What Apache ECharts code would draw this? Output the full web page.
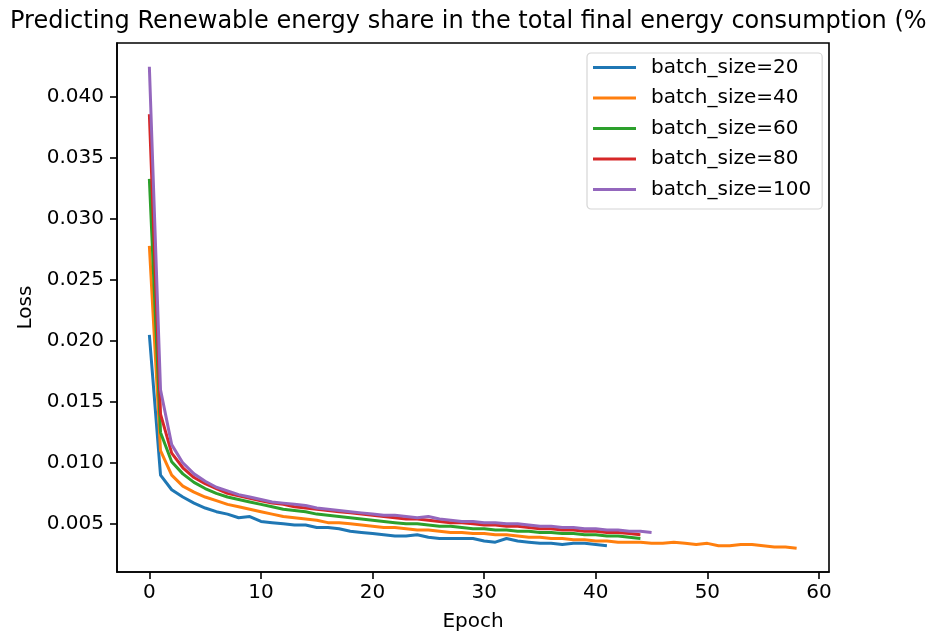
<!DOCTYPE html>
<html>
<head>
<meta charset="utf-8">
<script src="https://cdn.jsdelivr.net/npm/echarts@6/dist/echarts.min.js"></script>
<style>
html,body{margin:0;padding:0;background:#fff;}
#chart{width:928px;height:638px;}
</style>
</head>
<body>
<div id="chart"></div>
<script>
const titleText = "Predicting Renewable energy share in the total final energy consumption (%)";
const seriesNames = ["batch_size=20", "batch_size=40", "batch_size=60", "batch_size=80", "batch_size=100"];
const colors = ["#1f77b4", "#ff7f0e", "#2ca02c", "#d62728", "#9467bd"];

const loss20 = [0.0205, 0.0090, 0.0078, 0.0072, 0.0067, 0.0063, 0.0060, 0.0058, 0.0055, 0.0056,
  0.0052, 0.0051, 0.0050, 0.0049, 0.0049, 0.0047, 0.0047, 0.0046, 0.0044, 0.0043,
  0.0042, 0.0041, 0.0040, 0.0040, 0.0041, 0.0039, 0.0038, 0.0038, 0.0038, 0.0038,
  0.0036, 0.0035, 0.0038, 0.0036, 0.0035, 0.0034, 0.0034, 0.0033, 0.0034, 0.0034,
  0.0033, 0.0032];
const loss40 = [0.0278, 0.0110, 0.0090, 0.0081, 0.0076, 0.0072, 0.0069, 0.0066, 0.0064, 0.0062,
  0.0060, 0.0058, 0.0056, 0.0055, 0.0054, 0.0053, 0.0051, 0.0051, 0.0050, 0.0049,
  0.0048, 0.0047, 0.0047, 0.0046, 0.0045, 0.0045, 0.0044, 0.0043, 0.0043, 0.0042,
  0.0042, 0.0041, 0.0041, 0.0040, 0.0039, 0.0039, 0.0038, 0.0038, 0.0037, 0.0037,
  0.0036, 0.0036, 0.0035, 0.0035, 0.0035, 0.0034, 0.0034, 0.0035, 0.0034, 0.0033,
  0.0034, 0.0032, 0.0032, 0.0033, 0.0033, 0.0032, 0.0031, 0.0031, 0.0030];
const loss60 = [0.0333, 0.0125, 0.0101, 0.0091, 0.0084, 0.0079, 0.0075, 0.0072, 0.0070, 0.0068,
  0.0066, 0.0064, 0.0062, 0.0061, 0.0060, 0.0058, 0.0057, 0.0056, 0.0055, 0.0054,
  0.0053, 0.0052, 0.0051, 0.0050, 0.0050, 0.0049, 0.0048, 0.0048, 0.0047, 0.0046,
  0.0046, 0.0045, 0.0045, 0.0044, 0.0044, 0.0043, 0.0043, 0.0042, 0.0042, 0.0041,
  0.0041, 0.0040, 0.0040, 0.0039, 0.0038];
const loss80 = [0.0386, 0.0140, 0.0108, 0.0096, 0.0088, 0.0083, 0.0079, 0.0075, 0.0073, 0.0071,
  0.0069, 0.0067, 0.0066, 0.0064, 0.0063, 0.0062, 0.0061, 0.0060, 0.0059, 0.0058,
  0.0057, 0.0056, 0.0055, 0.0054, 0.0054, 0.0053, 0.0052, 0.0051, 0.0051, 0.0050,
  0.0049, 0.0049, 0.0048, 0.0048, 0.0047, 0.0046, 0.0046, 0.0045, 0.0045, 0.0044,
  0.0044, 0.0043, 0.0043, 0.0042, 0.0041];
const loss100 = [0.0425, 0.0160, 0.0115, 0.0100, 0.0091, 0.0085, 0.0080, 0.0077, 0.0074, 0.0072,
  0.0070, 0.0068, 0.0067, 0.0066, 0.0065, 0.0063, 0.0062, 0.0061, 0.0060, 0.0059,
  0.0058, 0.0057, 0.0057, 0.0056, 0.0055, 0.0056, 0.0054, 0.0053, 0.0052, 0.0052,
  0.0051, 0.0051, 0.0050, 0.0050, 0.0049, 0.0048, 0.0048, 0.0047, 0.0047, 0.0046,
  0.0046, 0.0045, 0.0045, 0.0044, 0.0044, 0.0043];

const xTicks = [0, 10, 20, 30, 40, 50, 60];
const yTicks = [0.005, 0.010, 0.015, 0.020, 0.025, 0.030, 0.035, 0.040];

const allLoss = [loss20, loss40, loss60, loss80, loss100];
const FONT = "DejaVu Sans";

const chart = echarts.init(document.getElementById('chart'), null, {renderer: 'canvas'});
chart.setOption({
  animation: false,
  backgroundColor: '#fff',
  graphic: [{
    type: 'text', x: 473, y: 22,
    style: {text: titleText, fontFamily: FONT, fontSize: 24, fill: '#000', textAlign: 'center', textVerticalAlign: 'middle'}
  }],
  grid: {left: 117, top: 43, right: 99, bottom: 66, show: true, borderColor: '#000', borderWidth: 1.6, backgroundColor: '#fff'},
  legend: {
    orient: 'vertical', left: 587, top: 53,
    data: seriesNames,
    icon: 'rect', itemWidth: 43, itemHeight: 3, itemGap: 7.5,
    padding: [3, 11, 8, 6],
    backgroundColor: '#fff', borderColor: '#d6d6d6', borderWidth: 1.2, borderRadius: 4,
    textStyle: {fontFamily: FONT, fontSize: 20, color: '#000', lineHeight: 23, padding: [0, 0, 0, 10]}
  },
  xAxis: {
    type: 'value', min: -2.9, max: 60.9,
    name: 'Epoch', nameLocation: 'middle', nameGap: 40,
    nameTextStyle: {fontFamily: FONT, fontSize: 20, color: '#000'},
    splitLine: {show: false},
    axisLine: {show: true, onZero: false, lineStyle: {color: '#000', width: 1.6}},
    axisTick: {show: true, length: 7, lineStyle: {color: '#000', width: 1.6}, customValues: xTicks},
    axisLabel: {fontFamily: FONT, fontSize: 20, color: '#000', margin: 11, customValues: xTicks, formatter: v => String(Math.round(v))}
  },
  yAxis: {
    type: 'value', min: 0.00105, max: 0.04445,
    name: 'Loss', nameLocation: 'middle', nameGap: 80,
    nameTextStyle: {fontFamily: FONT, fontSize: 20, color: '#000'},
    splitLine: {show: false},
    axisLine: {show: true, onZero: false, lineStyle: {color: '#000', width: 1.6}},
    axisTick: {show: true, length: 7, lineStyle: {color: '#000', width: 1.6}, customValues: yTicks},
    axisLabel: {fontFamily: FONT, fontSize: 20, color: '#000', margin: 13, customValues: yTicks, formatter: v => v.toFixed(3)}
  },
  series: allLoss.map((arr, i) => ({
    name: seriesNames[i],
    type: 'line',
    data: arr.map((v, e) => [e, v]),
    showSymbol: false,
    symbol: 'none',
    lineStyle: {color: colors[i], width: 3},
    itemStyle: {color: colors[i]},
    z: 2 + i
  }))
});
</script>
</body>
</html>
